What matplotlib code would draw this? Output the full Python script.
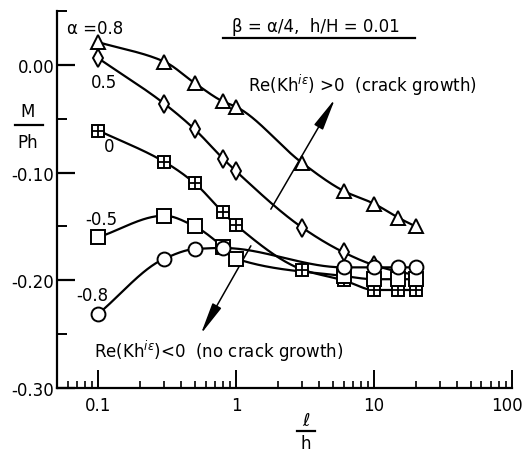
import numpy as np
import matplotlib
matplotlib.use("Agg")
import matplotlib.pyplot as plt
import matplotlib.transforms as mtransforms
from matplotlib.lines import Line2D
from matplotlib.ticker import FixedLocator, NullFormatter, FixedFormatter

# l/h positions of the computed points
x_full = [0.1, 0.3, 0.5, 0.8, 1, 3, 6, 10, 15, 20]
x_circ = [0.1, 0.3, 0.5, 0.8, 6, 10, 15, 20]
x_sq = [0.1, 0.3, 0.5, 0.8, 1, 6, 10, 15, 20]

# M/(Ph) for each alpha
m_a08 = [0.021, 0.003, -0.017, -0.034, -0.039, -0.091, -0.117, -0.129, -0.142, -0.150]
m_a05 = [0.006, -0.036, -0.060, -0.087, -0.099, -0.151, -0.174, -0.186, -0.192, -0.195]
m_a0 = [-0.061, -0.090, -0.110, -0.137, -0.149, -0.190, -0.200, -0.209, -0.209, -0.209]
m_am05 = [-0.160, -0.140, -0.150, -0.169, -0.180, -0.196, -0.199, -0.199, -0.199]
m_am08 = [-0.231, -0.180, -0.171, -0.170, -0.188, -0.188, -0.188, -0.188]

y_ticks = [0.0, -0.10, -0.20, -0.30]
y_ticklabels = ["0.00", "-0.10", "-0.20", "-0.30"]
x_ticks = [0.1, 1, 10, 100]
x_ticklabels = ["0.1", "1", "10", "100"]


def pchip(xk, yk, xn):
    """Monotone cubic (Fritsch-Carlson) through the points."""
    xk = np.asarray(xk, float)
    yk = np.asarray(yk, float)
    h = np.diff(xk)
    d = np.diff(yk) / h
    n = len(xk)
    m = np.zeros(n)
    for i in range(1, n - 1):
        if d[i - 1] * d[i] > 0:
            w1 = 2 * h[i] + h[i - 1]
            w2 = h[i] + 2 * h[i - 1]
            m[i] = (w1 + w2) / (w1 / d[i - 1] + w2 / d[i])
    m[0] = d[0]
    m[-1] = d[-1]
    out = np.empty_like(xn)
    idx = np.clip(np.searchsorted(xk, xn) - 1, 0, n - 2)
    for j, (xv, i) in enumerate(zip(xn, idx)):
        t = (xv - xk[i]) / h[i]
        h00 = 2 * t**3 - 3 * t**2 + 1
        h10 = t**3 - 2 * t**2 + t
        h01 = -2 * t**3 + 3 * t**2
        h11 = t**3 - t**2
        out[j] = h00 * yk[i] + h10 * h[i] * m[i] + h01 * yk[i + 1] + h11 * h[i] * m[i + 1]
    return out


W, H = 524, 456
fig = plt.figure(figsize=(W / 100, H / 100), dpi=100)
ax = fig.add_axes([57 / W, 1 - 389 / H, (512 - 57) / W, (389 - 12) / H])

lw = 1.6
series = [
    (x_full, m_a08, dict(marker="^", ms=10)),
    (x_full, m_a05, dict(marker="d", ms=9)),
    (x_full, m_a0, dict(marker="s", ms=9)),
    (x_sq, m_am05, dict(marker="s", ms=9.5)),
    (x_circ, m_am08, dict(marker="o", ms=10)),
]
for xs, ys, mk in series:
    lx = np.log10(xs)
    xn = np.linspace(lx[0], lx[-1], 300)
    ax.plot(10 ** xn, pchip(lx, ys, xn), color="black", lw=lw, zorder=2)
for i, (xs, ys, mk) in enumerate(series):
    ax.plot(xs, ys, linestyle="none", mfc="white", mec="black", mew=1.4,
            zorder=3 + i, **mk)
    if i == 2:
        ax.plot(xs, ys, linestyle="none", marker="+", ms=9, mec="black",
                mew=1.3, zorder=3 + i)

ax.set_xscale("log")
ax.set_xlim(0.05, 100)
ax.set_ylim(-0.30, 0.05)

for s in ("top", "right"):
    ax.spines[s].set_visible(False)
for s in ("left", "bottom"):
    ax.spines[s].set_linewidth(1.6)

ax.xaxis.set_major_locator(FixedLocator(x_ticks))
ax.xaxis.set_major_formatter(FixedFormatter(x_ticklabels))
ax.xaxis.set_minor_locator(FixedLocator(
    [k * 10.0**e for e in (-2, -1, 0, 1) for k in range(2, 10) if 0.05 <= k * 10.0**e <= 100]))
ax.xaxis.set_minor_formatter(NullFormatter())
ax.yaxis.set_major_locator(FixedLocator(y_ticks))
ax.yaxis.set_major_formatter(FixedFormatter(y_ticklabels))
ax.yaxis.set_minor_locator(FixedLocator([0.05, -0.05, -0.15, -0.25]))

ax.tick_params(axis="x", which="major", direction="in", length=13, width=1.4,
               labelsize=12, pad=6)
ax.tick_params(axis="x", which="minor", direction="in", length=5, width=1.2)
ax.tick_params(axis="y", which="major", direction="in", length=13, width=1.6,
               labelsize=12, pad=2)
ax.tick_params(axis="y", which="minor", direction="in", length=7, width=1.4)

# keep the last x label inside the figure edge
fig.canvas.draw()
last = ax.get_xticklabels()[-1]
last.set_transform(last.get_transform() +
                   mtransforms.ScaledTranslation(-5 / 100, 0, fig.dpi_scale_trans))

fs = 12
# curve labels
ax.text(0.0595, 0.034, r"α =0.8", fontsize=fs, va="center", ha="left")
ax.text(0.0875, -0.016, "0.5", fontsize=fs, va="center", ha="left")
ax.text(0.109, -0.075, "0", fontsize=fs, va="center", ha="left")
ax.text(0.0804, -0.143, "-0.5", fontsize=fs, va="center", ha="left")
ax.text(0.069, -0.214, "-0.8", fontsize=fs, va="center", ha="left")

# parameter box title with underline
ax.text(0.569, 0.960, "β = α/4,  h/H = 0.01", transform=ax.transAxes,
        fontsize=fs, ha="center", va="center")
ax.add_line(Line2D([0.365, 0.787], [0.928, 0.928], transform=ax.transAxes,
                   color="black", lw=1.6, clip_on=False))

# crack growth direction arrows
arrow_kw = dict(arrowstyle="-|>,head_length=1.4,head_width=0.22",
                color="black", lw=1.1, mutation_scale=14, shrinkA=0, shrinkB=0)
ax.annotate("", xy=(5.2, -0.0316), xytext=(1.78, -0.134), arrowprops=arrow_kw)
ax.annotate("", xy=(0.552, -0.250), xytext=(1.275, -0.168), arrowprops=arrow_kw)
ax.text(1.21, -0.0177, r"Re(Kh$^{i\varepsilon}$) >0  (crack growth)",
        fontsize=fs, ha="left", va="center")
ax.text(0.0935, -0.265, r"Re(Kh$^{i\varepsilon}$)<0  (no crack growth)",
        fontsize=fs, ha="left", va="center")

# axis labels drawn as stacked fractions
fig.text(28 / W, 1 - 112 / H, "M", fontsize=fs, ha="center", va="center")
fig.add_artist(Line2D([15 / W, 43 / W], [1 - 126 / H, 1 - 126 / H],
                      color="black", lw=1.6))
fig.text(28 / W, 1 - 143 / H, "Ph", fontsize=fs, ha="center", va="center")

fig.text(306 / W, 1 - 421 / H, r"$\ell$", fontsize=fs + 1, ha="center",
         va="center", fontweight="bold")
fig.add_artist(Line2D([297 / W, 315 / W], [1 - 432 / H, 1 - 432 / H],
                      color="black", lw=1.6))
fig.text(306 / W, 1 - 444 / H, "h", fontsize=fs, ha="center", va="center")

fig.savefig("out.png", dpi=100)
